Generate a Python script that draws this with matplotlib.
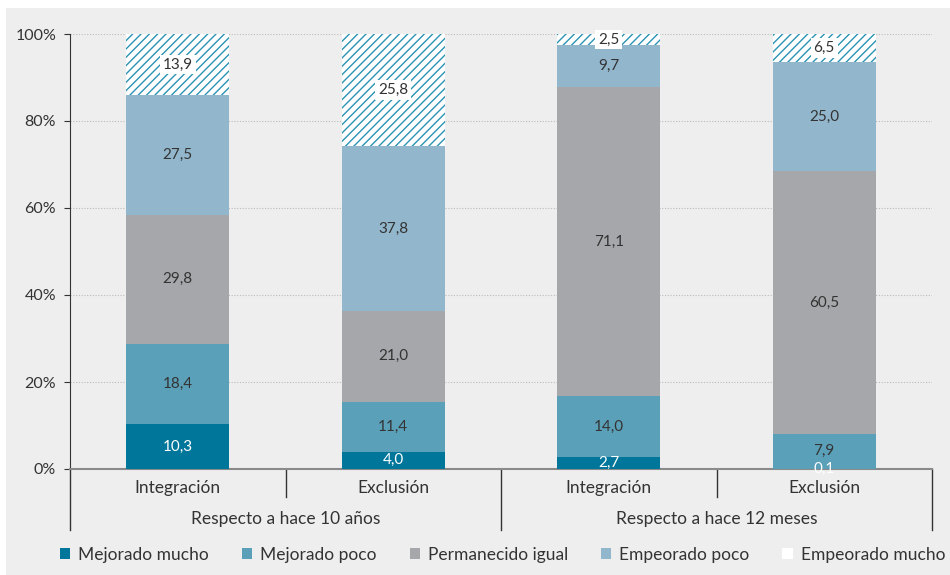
import matplotlib
matplotlib.use("Agg")
import matplotlib.pyplot as plt
from matplotlib.patches import Patch, Rectangle
from matplotlib.transforms import blended_transform_factory
import numpy as np

plt.rcParams['font.family'] = ['Lato', 'DejaVu Sans']
plt.rcParams['hatch.linewidth'] = 1.0

# datos
categorias = ['Integración', 'Exclusión', 'Integración', 'Exclusión']
grupos = ['Respecto a hace 10 años', 'Respecto a hace 12 meses']
series = ['Mejorado mucho', 'Mejorado poco', 'Permanecido igual',
          'Empeorado poco', 'Empeorado mucho']
mejorado_mucho = [10.3, 4.0, 2.7, 0.1]
mejorado_poco = [18.4, 11.4, 14.0, 7.9]
permanecido = [29.8, 21.0, 71.1, 60.5]
empeorado_poco = [27.5, 37.8, 9.7, 25.0]
empeorado_mucho = [13.9, 25.8, 2.5, 6.5]
yticks = [0, 20, 40, 60, 80, 100]

valores = [mejorado_mucho, mejorado_poco, permanecido, empeorado_poco, empeorado_mucho]
colores = ['#00769a', '#5ba0b9', '#a6a7aa', '#92b7cc', 'white']
texto_col = ['white', '#333333', '#333333', '#333333', '#333333']
hatch_col = '#2a93b3'
gris = '#eeeeee'

fig = plt.figure(figsize=(9.5, 5.75), dpi=100, facecolor='white')
fig.patches.append(Rectangle((6 / 950, 0), 1, 1 - 8 / 575, transform=fig.transFigure,
                             facecolor=gris, edgecolor='none', zorder=-10))
ax = fig.add_axes([70 / 950, 106 / 575, 862 / 950, 435 / 575])
ax.set_facecolor(gris)

x = np.arange(len(categorias)) + 0.5
ancho = 0.48
base = np.zeros(len(categorias))
for i, v in enumerate(valores):
    v = np.array(v)
    if i == 4:
        ax.bar(x, v, ancho, bottom=base, color='white', edgecolor=hatch_col,
               linewidth=0, hatch='////', zorder=3)
    else:
        ax.bar(x, v, ancho, bottom=base, color=colores[i], edgecolor='none', zorder=3)
    for xi, b, vi in zip(x, base, v):
        txt = f'{vi:.1f}'.replace('.', ',')
        kw = {}
        if i == 4:
            kw['bbox'] = dict(facecolor='white', edgecolor='none', pad=2)
        ax.text(xi, b + vi / 2, txt, ha='center', va='center', fontsize=11,
                color=texto_col[i], zorder=5, **kw)
    base = base + v

ax.set_xlim(0, 4)
ax.set_ylim(0, 100)
ax.set_yticks(yticks)
ax.set_yticklabels([f'{t}%' for t in yticks], fontsize=11.5, color='#333333')
ax.set_xticks([])
ax.yaxis.grid(True, linestyle=(0, (1, 1.5)), color='#bbbbbb', linewidth=0.8, zorder=0)
ax.tick_params(axis='y', length=4, color='#333333', pad=6)
for s in ['top', 'right']:
    ax.spines[s].set_visible(False)
ax.spines['left'].set_color('#333333')
ax.spines['bottom'].set_color('#8a8a8a')
ax.spines['bottom'].set_linewidth(1.5)

# eje x de dos niveles
tr = blended_transform_factory(ax.transData, ax.transAxes)
for xi, c in zip(x, categorias):
    ax.text(xi, -0.044, c, transform=tr, ha='center', va='center', fontsize=12.5,
            color='#333333')
for j, g in enumerate(grupos):
    ax.text(2 * j + 1, -0.115, g, transform=tr, ha='center', va='center', fontsize=12.5,
            color='#333333')
for xs in [1, 3]:
    ax.plot([xs, xs], [0, -0.064], transform=tr, color='#333333', lw=1, clip_on=False)
for xs in [0, 2, 4]:
    ax.plot([xs, xs], [0, -0.14], transform=tr, color='#333333', lw=1, clip_on=False)

handles = [Patch(facecolor=c, edgecolor='none') for c in colores]
fig.legend(handles, series, loc='center', bbox_to_anchor=(0.529, 0.035), ncol=5,
           frameon=False, fontsize=12.5, handlelength=0.6, handleheight=0.6,
           handletextpad=0.45, columnspacing=1.9, labelcolor='#333333')

fig.savefig('out.png', dpi=100, facecolor=fig.get_facecolor())
